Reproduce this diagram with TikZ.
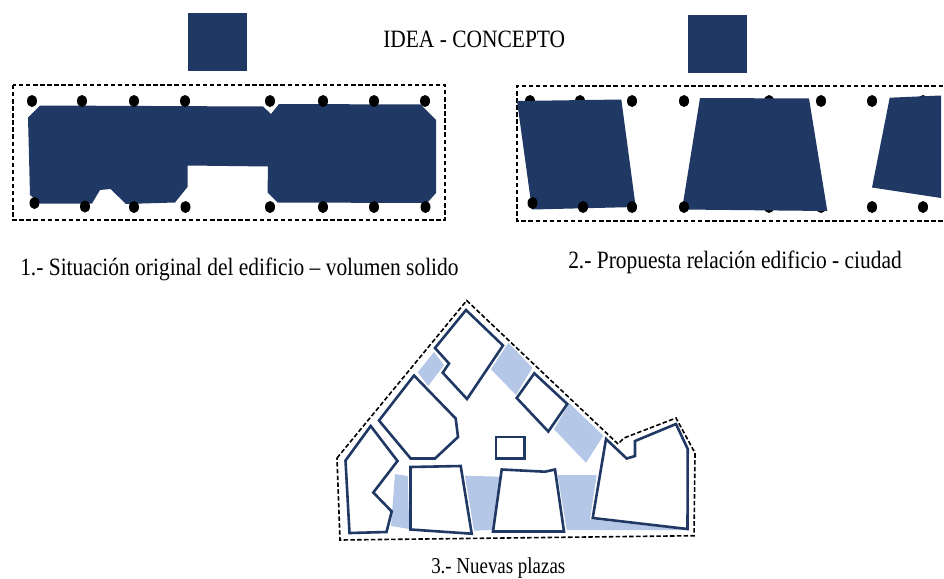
\documentclass[tikz,border=0pt]{standalone}
\usepackage{fontspec}
\setmainfont{Liberation Serif}[FakeStretch=0.86]
\newfontfamily\plazascaption{Liberation Serif}[FakeStretch=0.835]
\definecolor{navy}{HTML}{1F3864}
\definecolor{plaza}{HTML}{B4C7E7}
\tikzset{
  solidmass/.style={fill=navy,draw=none},
  pin/.style={fill=black,draw=none},
  frameline/.style={draw=black,line width=2pt,dash pattern=on 3.3pt off 2pt},
  siteline/.style={draw=black,line width=1.2pt,dash pattern=on 3.4pt off 1.7pt},
  blockline/.style={draw=navy,line width=1.95pt,fill=white,line join=miter},
  plazafill/.style={fill=plaza,draw=none},
  caption/.style={anchor=base west,inner sep=0pt,font=\fontsize{18.7pt}{22pt}\selectfont}
}
\newcommand{\pindot}[2]{\fill[pin] (#1,#2) ellipse [x radius=5,y radius=6];}
\begin{document}
\begin{tikzpicture}[x=0.75pt,y=-0.75pt]
\useasboundingbox (0,0) rectangle (944,578);
\clip (0,0) rectangle (944,578);
% idea squares
\fill[solidmass] (188,13) rectangle (247,71);
\fill[solidmass] (688,15) rectangle (747,73);
\node[caption] (idea) at (383,47) {IDEA - CONCEPTO};
% panel 1
\draw[frameline] (13,85) rectangle (445,220);
\fill[solidmass] (28,117.5) -- (40,105.5) -- (263,106.5) -- (271,114) -- (279,104) -- (420.7,104.5) -- (436,120) -- (436,193) -- (427,203) -- (277.7,202.5) -- (267.5,192.5) -- (268,166.5) -- (187.5,165.5) -- (187.5,187) -- (175,202.5) -- (126,204) -- (110.5,189) -- (100,190) -- (92,203.5) -- (40,203.5) -- (30,195) -- cycle;
\foreach \x in {32,82,134,185,270,323,374,425} {\pindot{\x}{101}}
\foreach \x/\y in {34.5/203,85/206.5,134/207,185.5/207,270/207,323/207,374/207,425.5/207} {\pindot{\x}{\y}}
\node[caption] (capa) at (20,275) {1.- Situación original del edificio – volumen solido};
% panel 2
\draw[frameline] (950,86) -- (517,86) -- (517,221) -- (950,221);
\foreach \x in {530,580,632,684,769,821,872,923} {\pindot{\x}{101}}
\foreach \x in {769,821} {\pindot{\x}{207}}
\fill[solidmass] (517,101) -- (621.3,99.5) -- (635.7,207) -- (532,209.5) -- cycle;
\fill[solidmass] (700,98) -- (809,98.5) -- (827.3,211) -- (682,209.5) -- cycle;
\fill[solidmass] (889.7,97.7) -- (941,95.5) -- (941,198) -- (872,187.5) -- cycle;
\foreach \x/\y in {532.5/203,583/207,632/207,684/207,872/207,923/207} {\pindot{\x}{\y}}
\node[caption] (capb) at (568,268) {2.- Propuesta relación edificio - ciudad};
% panel 3 plazas
\fill[plazafill] (434,352) -- (444,365) -- (428.3,386) -- (417.7,372.3) -- cycle;
\fill[plazafill] (508.3,342.7) -- (532.3,367.7) -- (516,395) -- (491,369.3) -- cycle;
\fill[plazafill] (569.3,403.3) -- (603.3,435.7) -- (586,462.7) -- (554,429.3) -- cycle;
\fill[plazafill] (395,474) -- (407.7,476) -- (409.3,529) -- (391,526) -- cycle;
\fill[plazafill] (465,475.7) -- (500,476.7) -- (492.3,530) -- (474,530.7) -- cycle;
\fill[plazafill] (557.7,475) -- (596.7,475) -- (590,519.3) -- (688,530) -- (566.7,530) -- cycle;
% site outline
\draw[siteline] (337,458) -- (466.7,300.5) -- (618,444) -- (624,438) -- (676,418) -- (695,453) -- (694,535.7) -- (340,540) -- cycle;
% blocks
\draw[blockline] (466,310) -- (503,345.5) -- (467,399) -- (442.7,372.7) -- (449,363.5) -- (435,348) -- cycle;
\draw[blockline] (414,375.5) -- (455.7,418.5) -- (458,437) -- (435,458.5) -- (410.7,458.5) -- (379,420.5) -- cycle;
\draw[blockline] (370.7,426) -- (397.5,461) -- (373.3,492.5) -- (391.7,511.5) -- (386.5,532) -- (349.5,533) -- (345.5,460.5) -- cycle;
\draw[blockline] (410.5,467) -- (460.7,466) -- (471.7,533.7) -- (410.5,529.5) -- cycle;
\draw[blockline] (496,437) rectangle (524.5,458.7);
\draw[blockline] (501.7,469.5) -- (545,471.7) -- (555,469.5) -- (564,531.5) -- (493,531.5) -- cycle;
\draw[blockline] (606,439) -- (626.7,458.5) -- (635,456) -- (635,441) -- (676,424) -- (687.7,449) -- (687.5,529) -- (592.7,518) -- cycle;
\draw[blockline] (534.3,373.3) -- (567.3,404) -- (548.3,431.5) -- (516.7,398) -- cycle;
\node[caption,font=\plazascaption\fontsize{17pt}{20pt}\selectfont] (capc) at (431,573) {3.- Nuevas plazas};
\end{tikzpicture}
\end{document}
